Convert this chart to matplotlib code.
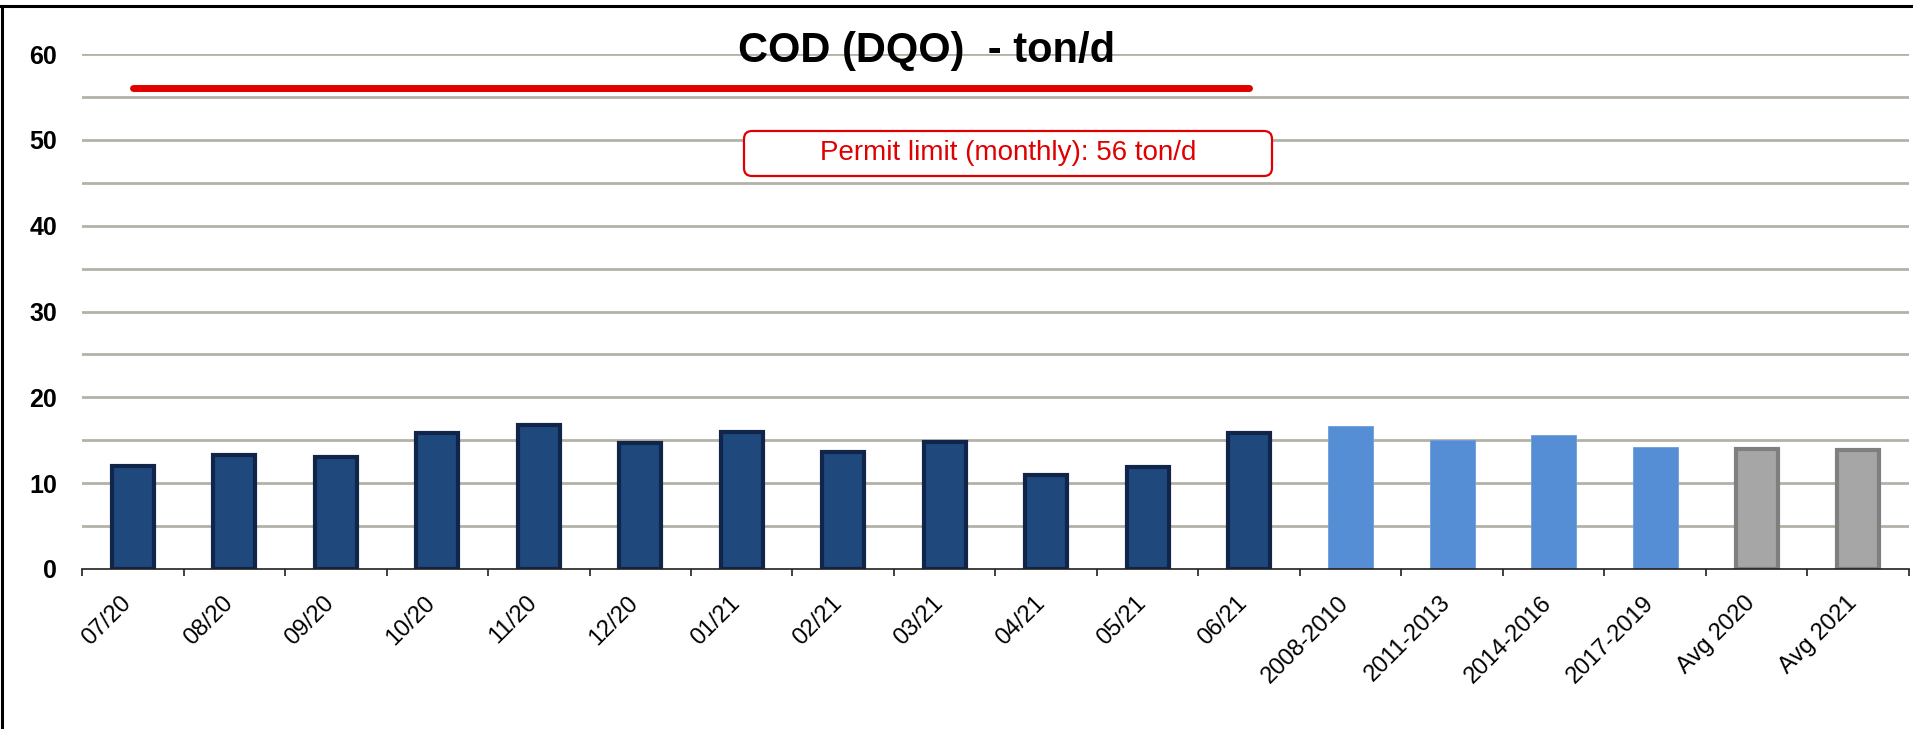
import matplotlib
matplotlib.use('Agg')
import matplotlib.pyplot as plt
from matplotlib.patches import FancyBboxPatch
from matplotlib.lines import Line2D
from matplotlib.transforms import ScaledTranslation

plt.rcParams['font.family'] = ['Liberation Sans', 'DejaVu Sans']

#chart data
months = ['07/20', '08/20', '09/20', '10/20', '11/20', '12/20',
          '01/21', '02/21', '03/21', '04/21', '05/21', '06/21']
month_vals = [12.0, 13.3, 13.0, 15.9, 16.8, 14.7, 16.0, 13.6, 14.8, 10.9, 11.9, 15.8]
periods = ['2008-2010', '2011-2013', '2014-2016', '2017-2019']
period_vals = [16.7, 15.0, 15.6, 14.2]
averages = ['Avg 2020', 'Avg 2021']
avg_vals = [14.0, 13.9]
permit_limit = 56
permit_text = 'Permit limit (monthly): 56 ton/d'
title = 'COD (DQO)  - ton/d'

labels = months + periods + averages
n = len(labels)

fig = plt.figure(figsize=(19.13, 7.29), dpi=100)
ax = fig.add_axes([82/1913, 1 - 569/729, 1827/1913, 515/729])

#grid lines every 5 units, behind bars
for g in range(5, 65, 5):
    ax.axhline(g, color='#B4B2A7', lw=2.0, zorder=0)

x_m = list(range(len(months)))
x_p = list(range(len(months), len(months) + len(periods)))
x_a = list(range(len(months) + len(periods), n))

ax.bar(x_m, month_vals, width=0.41, color='#1F497D', edgecolor='#11254A', linewidth=3, zorder=2)
ax.bar(x_p, period_vals, width=0.44, color='#558ED5', edgecolor='#6E9EDC', linewidth=0.6, zorder=2)
ax.bar(x_a, avg_vals, width=0.41, color='#A6A6A6', edgecolor='#7F7F7F', linewidth=3, zorder=2)

#permit limit line over the monthly bars
ax.plot([x_m[0], x_m[-1]], [permit_limit, permit_limit], color='#E00000', lw=5,
        solid_capstyle='round', zorder=3)

ax.set_xlim(-0.5, n - 0.5)
ax.set_ylim(0, 60)

#y axis
ax.set_yticks(range(0, 70, 10))
ax.set_yticklabels([str(v) for v in range(0, 70, 10)], fontsize=18, fontweight='bold')
ax.tick_params(axis='y', length=0, pad=18)

#x axis: ticks between categories, labels at centres
ax.set_xticks([i - 0.5 for i in range(n + 1)])
ax.set_xticklabels([])
ax.tick_params(axis='x', which='major', length=5, width=1.2, direction='out', color='#202020')
ax.set_xticks(range(n), minor=True)
ax.set_xticklabels(labels, minor=True, rotation=45, ha='right', va='center',
                   rotation_mode='anchor', fontsize=17)
ax.tick_params(axis='x', which='minor', length=0, pad=22)
shift = ScaledTranslation(-5/100, 0, fig.dpi_scale_trans)
for lbl in ax.get_xticklabels(minor=True):
    lbl.set_transform(lbl.get_transform() + shift)

for s in ['left', 'right', 'top']:
    ax.spines[s].set_visible(False)
ax.spines['bottom'].set_color('#202020')
ax.spines['bottom'].set_linewidth(1.2)
ax.spines['bottom'].set_zorder(4)

#title
fig.text(9.27, 6.67, title, transform=fig.dpi_scale_trans, ha='center', va='baseline',
         fontsize=30, fontweight='bold')

#permit limit label box
box = FancyBboxPatch((7.44, 5.53), 5.28, 0.45, boxstyle='round,pad=0,rounding_size=0.08',
                     transform=fig.dpi_scale_trans, facecolor='white', edgecolor='#E00000',
                     linewidth=1.6, zorder=5)
fig.add_artist(box)
fig.text(10.08, 5.755, permit_text, transform=fig.dpi_scale_trans, ha='center', va='center',
         fontsize=20, color='#E00000', zorder=6)

#outer frame (left and top)
fig.add_artist(Line2D([0, 1], [1 - 5.5/729, 1 - 5.5/729], color='black', lw=2.2,
                      transform=fig.transFigure))
fig.add_artist(Line2D([1.5/1913, 1.5/1913], [0, 1 - 5.5/729], color='black', lw=2.2,
                      transform=fig.transFigure))

fig.savefig('out.png', dpi=100)
